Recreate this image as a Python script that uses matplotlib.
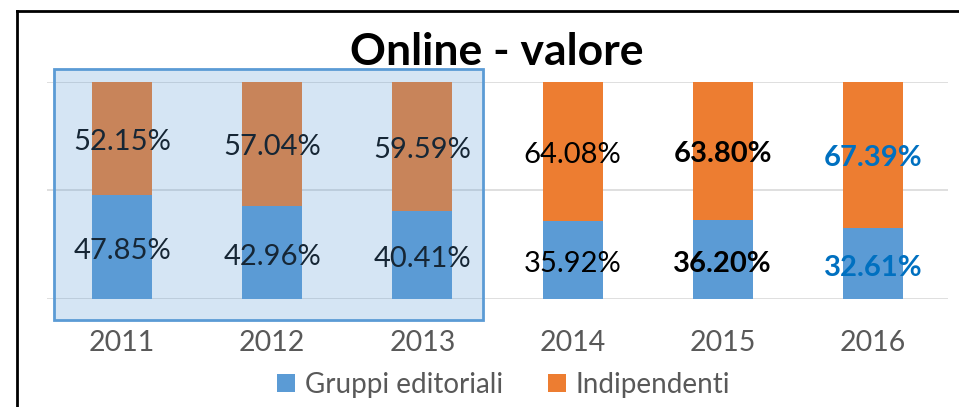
import matplotlib
matplotlib.use("Agg")
import matplotlib.pyplot as plt
import numpy as np
from matplotlib.patches import Rectangle
from matplotlib.lines import Line2D

plt.rcParams['font.family'] = ['Lato', 'DejaVu Sans']

# ─── data ──────────────────────────────────────────────────────────────────────
years = ["2011", "2012", "2013", "2014", "2015", "2016"]
gruppi = [47.85, 42.96, 40.41, 35.92, 36.20, 32.61]
indipendenti = [52.15, 57.04, 59.59, 64.08, 63.80, 67.39]

# label styling per column
label_weight = ["normal", "normal", "normal", "normal", "bold", "bold"]
label_color = ["black", "black", "black", "black", "black", "#0070C0"]

BLUE = "#5B9BD5"
ORANGE = "#ED7D31"

# ─── figure ────────────────────────────────────────────────────────────────────
fig = plt.figure(figsize=(9.59, 4.07), dpi=100)
ax = fig.add_axes([0.049, 0.2654, 0.9395, 0.5331])

x = np.arange(len(years))
g = np.array(gruppi) / 100
ind = np.array(indipendenti) / 100

ax.bar(x, g, 0.4, color=BLUE, label="Gruppi editoriali", zorder=2)
ax.bar(x, ind, 0.4, bottom=g, color=ORANGE, label="Indipendenti", zorder=2)

for i in range(len(years)):
    kw = dict(ha="center", va="center", fontsize=21,
              fontweight=label_weight[i], color=label_color[i], zorder=3)
    ax.text(x[i], g[i] / 2 - 0.02, f"{gruppi[i]:.2f}%", **kw)
    ax.text(x[i], g[i] + ind[i] / 2 - 0.015, f"{indipendenti[i]:.2f}%", **kw)

ax.set_xlim(-0.5, len(years) - 0.5)
ax.set_ylim(0, 1)
ax.set_yticks([0, 0.5, 1])
ax.set_yticklabels([])
ax.grid(axis="y", color="#D9D9D9", linewidth=1.2, zorder=0)
ax.tick_params(axis="y", length=0)
ax.tick_params(axis="x", length=0, pad=22, labelsize=20.5, labelcolor="#595959")
ax.set_xticks(x)
ax.set_xticklabels(years)
for s in ax.spines.values():
    s.set_visible(False)

# highlighted block 2011-2013 (translucent overlay)
ax.add_patch(Rectangle((-0.455, -0.097), 2.86, 1.157, facecolor=BLUE,
                       alpha=0.25, edgecolor="none", clip_on=False, zorder=5))
ax.add_patch(Rectangle((-0.455, -0.097), 2.86, 1.157, facecolor="none",
                       edgecolor=BLUE, linewidth=2, clip_on=False, zorder=6))

fig.text(0.518, 0.872, "Online - valore", ha="center", va="center",
         fontsize=32, fontweight="bold")

ax.legend(loc="center", bbox_to_anchor=(0.525, 0.055), bbox_transform=fig.transFigure,
          ncol=2, frameon=False, fontsize=20, labelcolor="#595959",
          handlelength=0.65, handleheight=0.65, handletextpad=0.35, columnspacing=1.6)

# outer frame (cut off at right and bottom)
fig.add_artist(Line2D([0.0177, 1], [0.973, 0.973], color="black", linewidth=2))
fig.add_artist(Line2D([0.0177, 0.0177], [0, 0.973], color="black", linewidth=2))

fig.savefig("out.png", dpi=100)
